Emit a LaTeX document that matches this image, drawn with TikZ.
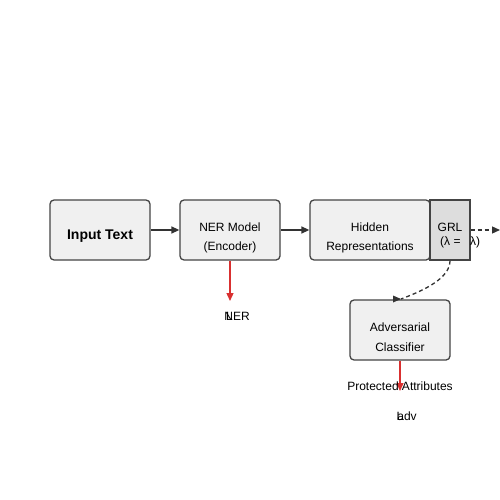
\documentclass[tikz,border=0pt]{standalone}
\usepackage{fontspec}
\setmainfont{Liberation Sans}
\usetikzlibrary{arrows.meta}
\definecolor{boxfill}{HTML}{F0F0F0}
\definecolor{grlfill}{HTML}{DDDDDD}
\definecolor{edge}{HTML}{444444}
\definecolor{arr}{HTML}{333333}
\definecolor{redarr}{HTML}{D93030}
\tikzset{
  box/.style={draw=edge, fill=boxfill, line width=1.3pt, rounded corners=4pt, minimum width=100pt, minimum height=60pt, inner sep=0pt},
  grlbox/.style={draw=edge, fill=grlfill, line width=1.2pt, minimum width=40pt, minimum height=60pt, inner sep=0pt},
  flow/.style={draw=arr, line width=1.3pt, -{Triangle[length=8pt,width=7pt]}},
  dflow/.style={draw=arr, line width=1.3pt, dashed, dash pattern=on 4pt off 3pt},
  redflow/.style={draw=redarr, line width=1.3pt, -{Triangle[length=8pt,width=7pt]}},
  lbl/.style={inner sep=0pt, font=\fontsize{12}{14}\selectfont},
}
\begin{document}
\begin{tikzpicture}[x=1pt,y=-1pt]
\useasboundingbox (0,0) rectangle (500,500);
\node[box] (input) at (100,230) {};
\node[lbl, font=\fontsize{14}{16}\selectfont\bfseries] (inputt) at (100,236.5) {Input Text};
\node[box] (ner) at (230,230) {};
\node[lbl] (nert1) at (230,227.5) {NER Model};
\node[lbl] (nert2) at (230,247.5) {(Encoder)};
\node[box, minimum width=120pt] (hidden) at (370,230) {};
\node[lbl] (hidt1) at (370,227.5) {Hidden};
\node[lbl] (hidt2) at (370,247.5) {Representations};
\node[grlbox] (grl) at (450,230) {};
\node[lbl] (grlt) at (450,227) {GRL};
\node[lbl, anchor=west] (grll) at (440,242) {(λ =};
\node[lbl, anchor=west] (grlr) at (470,242) {λ)};
\node[box] (adv) at (400,330) {};
\node[lbl] (advt1) at (400,327.5) {Adversarial};
\node[lbl] (advt2) at (400,347.5) {Classifier};
\coordinate (out) at (500,230);
\coordinate (nerend) at (230,301);
\coordinate (advend) at (400,391);
\coordinate (advtop) at (401,299);
\draw[flow] (input.east) -- (ner.west);
\draw[flow] (ner.east) -- (hidden.west);
\draw[dflow, -{Triangle[length=8pt,width=7pt]}] (grl.east) -- (out);
\draw[redflow] (ner.south) -- (nerend);
\draw[redflow] (adv.south) -- (advend);
\draw[dflow] (grl.south) .. controls (450,278) and (425,290) .. (advtop);
\fill[arr] (advtop) -- ++(-8,-3.5) -- ++(0,7) -- cycle;
\node[lbl] (nerlbl) at (237,316.5) {NER};
\node[lbl] (nerL) at (229.5,316.5) {L};
\node[lbl] (prot) at (400,386.5) {Protected Attributes};
\node[lbl] (advlbl) at (407,416.5) {adv};
\node[lbl] (advL) at (400,416.5) {L};
\end{tikzpicture}
\end{document}
